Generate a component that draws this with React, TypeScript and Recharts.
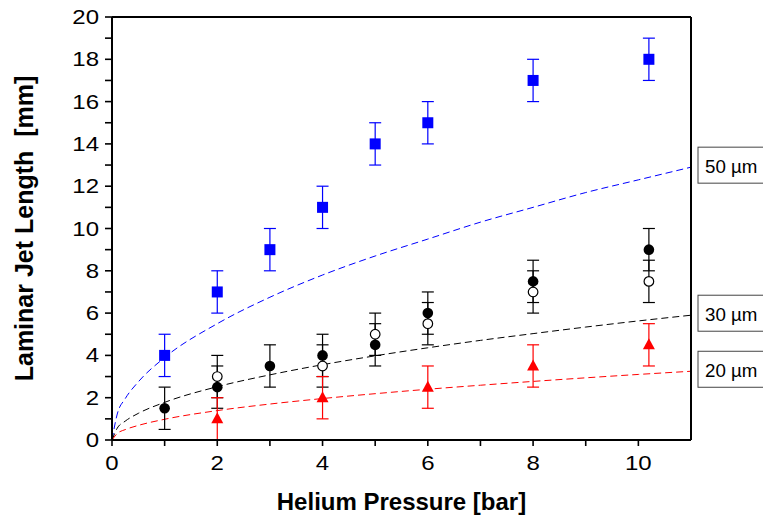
import {
    ComposedChart,
    Line,
    Scatter,
    ErrorBar,
    XAxis,
    YAxis,
} from "recharts";

// measured points (Helium pressure in bar, jet length in mm)
const pressure50 = [1, 2, 3, 4, 5, 6, 8, 10.2];
const length50 = [4, 7, 9, 11, 14, 15, 17, 18];
const err50 = [1, 1, 1, 1, 1, 1, 1, 1];

const pressure30 = [1, 2, 3, 4, 5, 6, 8, 10.2];
const length30 = [1.5, 2.5, 3.5, 4, 4.5, 6, 7.5, 9];
const err30 = [1, 1, 1, 1, 1, 1, 1, 1];

const pressure30b = [2, 4, 5, 6, 8, 10.2];
const length30b = [3, 3.5, 5, 5.5, 7, 7.5];
const err30b = [1, 1, 1, 1, 1, 1];

const pressure20 = [2, 4, 6, 8, 10.2];
const length20 = [1, 2, 2.5, 3.5, 4.5];
const err20 = [1, 1, 1, 1, 1];

// dashed model curves
const curvePressure = [0, 0.1, 0.25, 0.5, 1, 2, 3, 4, 5, 6, 7, 8, 9, 10, 11];
const curve50 = [0, 1.23, 1.95, 2.75, 3.9, 5.5, 6.75, 7.8, 8.7, 9.5, 10.3, 11.0, 11.7, 12.3, 12.9];
const curve30 = [0, 0.56, 0.89, 1.26, 1.78, 2.52, 3.08, 3.56, 3.98, 4.36, 4.71, 5.03, 5.34, 5.63, 5.9];
const curve20 = [0, 0.31, 0.49, 0.69, 0.98, 1.39, 1.7, 1.96, 2.19, 2.4, 2.59, 2.77, 2.94, 3.1, 3.25];

const xTicks = [0, 1, 2, 3, 4, 5, 6, 7, 8, 9, 10];
const yTicks = [0, 1, 2, 3, 4, 5, 6, 7, 8, 9, 10, 11, 12, 13, 14, 15, 16, 17, 18, 19, 20];

const FONT = "'Liberation Sans', Arial, sans-serif";

const points = (xs: number[], ys: number[], errs: number[]) =>
    xs.map((x, i) => ({ x, y: ys[i], err: errs[i] }));

const curve = (ys: number[]) => curvePressure.map((x, i) => ({ x, y: ys[i] }));

const SquareDot = (p: any) => (
    <rect x={p.cx - 5.5} y={p.cy - 5.5} width={11} height={11} fill="#0000ff" />
);
const FilledDot = (p: any) => <circle cx={p.cx} cy={p.cy} r={5.3} fill="#000" />;
const OpenDot = (p: any) => (
    <circle cx={p.cx} cy={p.cy} r={4.8} fill="#fff" stroke="#000" strokeWidth={1.2} />
);
const TriangleDot = (p: any) => (
    <polygon
        points={`${p.cx},${p.cy - 6.5} ${p.cx + 6},${p.cy + 4.5} ${p.cx - 6},${p.cy + 4.5}`}
        fill="#ff0000"
    />
);

// tick labels only on even values, slightly widened like the original export
const LeftTick = (p: any) => {
    const { x, y, payload } = p;
    if (payload.value % 2 !== 0) return <g />;
    return (
        <g transform={`translate(${x},${y + 7}) scale(1.2,1)`}>
            <text x={0} y={0} textAnchor="end" fontSize={20} fontFamily={FONT} fill="#000">
                {payload.value}
            </text>
        </g>
    );
};

const BottomTick = (p: any) => {
    const { x, y, payload } = p;
    if (payload.value % 2 !== 0) return <g />;
    return (
        <g transform={`translate(${x},${y + 22}) scale(1.2,1)`}>
            <text x={0} y={0} textAnchor="middle" fontSize={20} fontFamily={FONT} fill="#000">
                {payload.value}
            </text>
        </g>
    );
};

const XTitle = (p: any) => {
    const vb = p.viewBox;
    return (
        <text
            x={vb.x + vb.width / 2}
            y={vb.y + 70}
            textAnchor="middle"
            fontSize={24}
            fontWeight="bold"
            fontFamily={FONT}
            fill="#000"
        >
            Helium Pressure [bar]
        </text>
    );
};

const YTitle = (p: any) => {
    const vb = p.viewBox;
    const cx = vb.x + 33;
    const cy = vb.y + vb.height / 2;
    return (
        <text
            x={cx}
            y={cy}
            transform={`rotate(-90, ${cx}, ${cy})`}
            textAnchor="middle"
            fontSize={25}
            fontWeight="bold"
            fontFamily={FONT}
            fill="#000"
            style={{ whiteSpace: "pre" }}
        >
            {"Laminar Jet Length  [mm]"}
        </text>
    );
};

const endBox = (text: string, last: number) => (p: any) => {
    if (p.index !== last) return null;
    return (
        <g>
            <rect x={p.x + 7} y={p.y - 20} width={110} height={36} fill="#fff" stroke="#444" strokeWidth={1} />
            <g transform={`translate(${p.x + 14},${p.y + 6}) scale(1.04,1)`}>
                <text x={0} y={0} fontSize={18} fontFamily={FONT} fill="#000">
                    {text}
                </text>
            </g>
        </g>
    );
};

const axisStyle = { stroke: "#000", strokeWidth: 2 };
const tickStyle = { stroke: "#000", strokeWidth: 1.6 };

export default function App() {
    const last = curvePressure.length - 1;

    return (
        <div style={{ position: "absolute", left: 0, top: 0, background: "#fff" }}>
            <ComposedChart
                width={763}
                height={523}
                margin={{ top: 17, right: 72, bottom: 0, left: 0 }}
            >
                <XAxis
                    xAxisId="bottom"
                    type="number"
                    dataKey="x"
                    domain={[0, 11]}
                    ticks={xTicks}
                    interval={0}
                    height={83}
                    tickSize={6}
                    tickMargin={2}
                    stroke="#000"
                    axisLine={axisStyle}
                    tickLine={tickStyle}
                    tick={<BottomTick />}
                    label={<XTitle />}
                    allowDataOverflow
                />
                <XAxis
                    xAxisId="top"
                    orientation="top"
                    type="number"
                    dataKey="x"
                    domain={[0, 11]}
                    ticks={xTicks}
                    interval={0}
                    height={1}
                    mirror
                    tickSize={7}
                    stroke="#000"
                    axisLine={axisStyle}
                    tickLine={tickStyle}
                    tick={false}
                />
                <YAxis
                    yAxisId="left"
                    type="number"
                    domain={[0, 20]}
                    ticks={yTicks}
                    interval={0}
                    width={112}
                    tickSize={7}
                    tickMargin={6}
                    stroke="#000"
                    axisLine={axisStyle}
                    tickLine={tickStyle}
                    tick={<LeftTick />}
                    label={<YTitle />}
                    allowDataOverflow
                />
                <YAxis
                    yAxisId="right"
                    orientation="right"
                    type="number"
                    domain={[0, 20]}
                    ticks={yTicks}
                    interval={0}
                    width={1}
                    mirror
                    tickSize={7}
                    stroke="#000"
                    axisLine={axisStyle}
                    tickLine={tickStyle}
                    tick={false}
                />

                <Line
                    xAxisId="bottom"
                    yAxisId="left"
                    data={curve(curve50)}
                    dataKey="y"
                    type="monotone"
                    stroke="#0000ff"
                    strokeWidth={1}
                    strokeDasharray="7 4"
                    dot={false}
                    label={endBox("50 µm", last)}
                    isAnimationActive={false}
                />
                <Line
                    xAxisId="bottom"
                    yAxisId="left"
                    data={curve(curve30)}
                    dataKey="y"
                    type="monotone"
                    stroke="#000"
                    strokeWidth={1}
                    strokeDasharray="7 4"
                    dot={false}
                    label={endBox("30 µm", last)}
                    isAnimationActive={false}
                />
                <Line
                    xAxisId="bottom"
                    yAxisId="left"
                    data={curve(curve20)}
                    dataKey="y"
                    type="monotone"
                    stroke="#ff0000"
                    strokeWidth={1}
                    strokeDasharray="7 4"
                    dot={false}
                    label={endBox("20 µm", last)}
                    isAnimationActive={false}
                />

                <Scatter
                    xAxisId="bottom"
                    yAxisId="left"
                    data={points(pressure50, length50, err50)}
                    dataKey="y"
                    shape={<SquareDot />}
                    isAnimationActive={false}
                >
                    <ErrorBar dataKey="err" direction="y" width={6} stroke="#0000ff" strokeWidth={1.2} />
                </Scatter>
                <Scatter
                    xAxisId="bottom"
                    yAxisId="left"
                    data={points(pressure30b, length30b, err30b)}
                    dataKey="y"
                    shape={<OpenDot />}
                    isAnimationActive={false}
                >
                    <ErrorBar dataKey="err" direction="y" width={6} stroke="#000" strokeWidth={1.2} />
                </Scatter>
                <Scatter
                    xAxisId="bottom"
                    yAxisId="left"
                    data={points(pressure30, length30, err30)}
                    dataKey="y"
                    shape={<FilledDot />}
                    isAnimationActive={false}
                >
                    <ErrorBar dataKey="err" direction="y" width={6} stroke="#000" strokeWidth={1.2} />
                </Scatter>
                <Scatter
                    xAxisId="bottom"
                    yAxisId="left"
                    data={points(pressure20, length20, err20)}
                    dataKey="y"
                    shape={<TriangleDot />}
                    isAnimationActive={false}
                >
                    <ErrorBar dataKey="err" direction="y" width={6} stroke="#ff0000" strokeWidth={1.2} />
                </Scatter>
            </ComposedChart>
        </div>
    );
}
